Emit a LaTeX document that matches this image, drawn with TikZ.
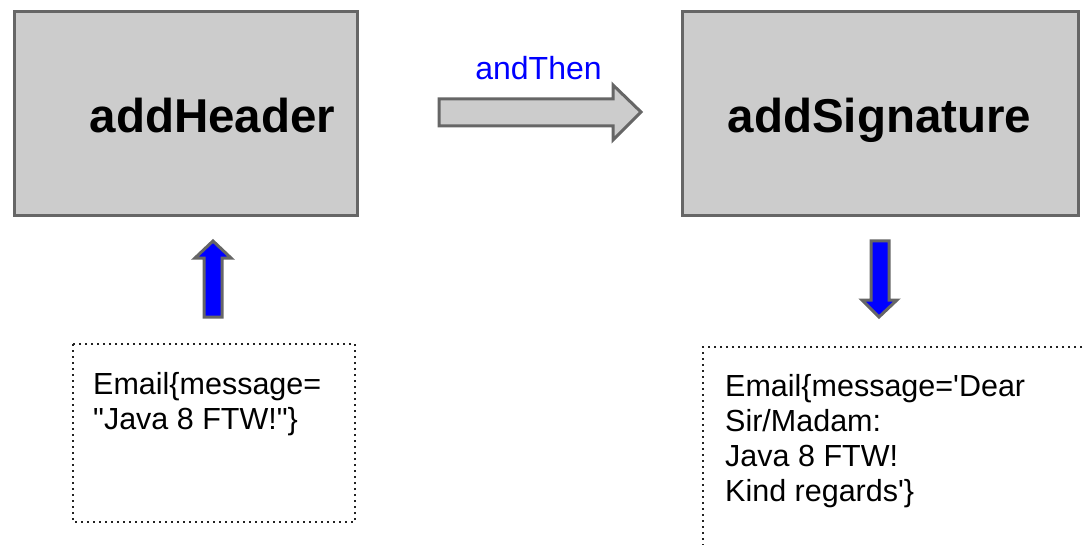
\documentclass[tikz,border=0pt]{standalone}
\usepackage{fontspec}
\setmainfont{Liberation Sans}
\begin{document}
\begin{tikzpicture}[x=1pt,y=-1pt,
  fnbox/.style={draw=boxline,fill=boxfill,line width=3pt,minimum width=343pt,minimum height=204pt,anchor=north west,inner sep=0pt},
  bigtitle/.style={font=\fontsize{47.5}{50}\selectfont\bfseries,anchor=base,inner sep=0pt},
  blockarrow/.style={draw=boxline,line width=3pt,line join=miter},
  dotbox/.style={draw=dotcol,line width=1.6pt,dash pattern=on 1.6pt off 4.4pt},
  msg/.style={font=\fontsize{30.5}{35}\selectfont,align=left,anchor=north west,inner sep=0pt}]
\definecolor{boxline}{HTML}{666666}
\definecolor{boxfill}{HTML}{CCCCCC}
\definecolor{dotcol}{HTML}{222222}
\definecolor{arrowblue}{HTML}{0000FF}
\useasboundingbox (0,0) rectangle (1083,545);
\fill[white] (0,0) rectangle (1083,545);
% function boxes
\node[fnbox] (hdr) at (13,10) {};
\node[fnbox,minimum width=396pt] (sig) at (681,10) {};
\node[bigtitle] (hdrlabel) at (212.5,133) {addHeader};
\node[bigtitle] (siglabel) at (879.5,133) {addSignature};
% andThen arrow
\draw[blockarrow,fill=boxfill] (439,99) -- (613,99) -- (613,85) -- (641,112) -- (613,140) -- (613,126) -- (439,126) -- cycle;
\node[font=\fontsize{32}{34}\selectfont,text=arrowblue,anchor=base,inner sep=0pt] (andthen) at (538.5,80) {andThen};
% up arrow
\draw[blockarrow,fill=arrowblue] (204,317) -- (204,258) -- (195,258) -- (213,241) -- (231,258) -- (222,258) -- (222,317) -- cycle;
% down arrow
\draw[blockarrow,fill=arrowblue] (871,241) -- (889,241) -- (889,300) -- (897,300) -- (879,317) -- (862,300) -- (871,300) -- cycle;
% input message
\draw[dotbox] (73,344) rectangle (355,522);
\node[msg] (inmsg) at (93,372.5) {Email\{message=\\\textquotedbl Java 8 FTW!\textquotedbl\}};
% output message
\begin{scope}
\clip (0,0) rectangle (1083,545);
\draw[dotbox] (1100,347) -| (703,560);
\end{scope}
\node[msg] (outmsg) at (725,374.5) {Email\{message=\textquotesingle Dear\\Sir/Madam:\\Java 8 FTW!\\Kind regards\textquotesingle\}};
\end{tikzpicture}
\end{document}
